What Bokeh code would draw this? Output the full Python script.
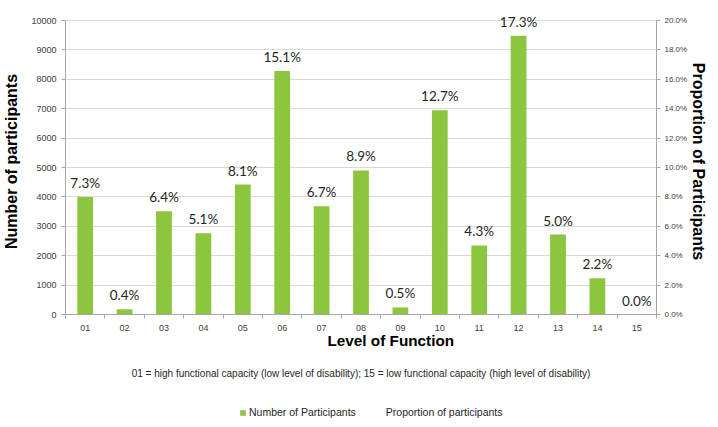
from bokeh.plotting import figure
from bokeh.layouts import column
from bokeh.models import (Range1d, LinearAxis, FixedTicker, PrintfTickFormatter, Title,
                          Legend, LegendItem, ColumnDataSource)
from bokeh.embed import file_html
from bokeh.resources import INLINE
from bokeh.core.properties import value

levels = ["01", "02", "03", "04", "05", "06", "07", "08", "09", "10", "11", "12", "13", "14", "15"]
participants = [4000, 180, 3510, 2760, 4420, 8280, 3680, 4900, 240, 6950, 2350, 9480, 2720, 1230, 0]
proportion = [7.3, 0.4, 6.4, 5.1, 8.1, 15.1, 6.7, 8.9, 0.5, 12.7, 4.3, 17.3, 5.0, 2.2, 0.0]
count_ticks = list(range(0, 10001, 1000))
pct_ticks = list(range(0, 21, 2))

pos = list(range(1, len(levels) + 1))
src = ColumnDataSource(dict(x=pos, n=participants,
                            lab=["%.1f%%" % v for v in proportion]))

GREEN = "#8cc63f"
AX = "#a6a6a6"
TXT = "#404040"
FONT = "Liberation Sans"
YTOP = 10410

p = figure(width=710, height=399, output_backend="svg", toolbar_location=None,
           x_range=Range1d(0.5, len(levels) + 0.5), y_range=Range1d(0, YTOP),
           min_border_left=55, min_border_right=50, min_border_top=8, min_border_bottom=78)
p.outline_line_color = None
p.background_fill_color = "white"

bars = p.vbar(x="x", top="n", width=0.4, source=src, fill_color=GREEN, line_color=None)
p.text(x="x", y="n", text="lab", source=src, text_align="center", text_baseline="bottom",
       y_offset=-6, text_font=value("Lato"), text_font_size="13.5px", text_color="#262626")

# x axis
p.xaxis.ticker = FixedTicker(ticks=pos, minor_ticks=[i + 0.5 for i in range(0, len(levels) + 1)])
p.xaxis.major_label_overrides = {i: l for i, l in zip(pos, levels)}
p.xaxis.major_tick_out = 0
p.xaxis.major_tick_in = 0
p.xaxis.minor_tick_out = 4
p.xaxis.minor_tick_in = 0
p.xaxis.axis_line_color = AX
p.xaxis.minor_tick_line_color = AX
p.xaxis.major_label_text_font = FONT
p.xaxis.major_label_text_font_size = "9px"
p.xaxis.major_label_text_color = TXT
p.xaxis.major_label_standoff = 6

# left axis
p.yaxis.ticker = FixedTicker(ticks=count_ticks)
p.yaxis.bounds = (0, 10000)
p.yaxis.axis_line_color = AX
p.yaxis.major_tick_line_color = AX
p.yaxis.major_tick_out = 4
p.yaxis.major_tick_in = 0
p.yaxis.minor_tick_line_color = None
p.yaxis.major_label_text_font = FONT
p.yaxis.major_label_text_font_size = "9px"
p.yaxis.major_label_text_color = TXT
p.yaxis.axis_label = "Number of participants"
p.yaxis.axis_label_text_font = FONT
p.yaxis.axis_label_text_font_size = "16px"
p.yaxis.axis_label_text_font_style = "bold"
p.yaxis.axis_label_text_color = "black"
p.yaxis.axis_label_standoff = 8

# right axis
p.extra_y_ranges = {"pct": Range1d(0, YTOP / 500)}
ra = LinearAxis(y_range_name="pct", ticker=FixedTicker(ticks=pct_ticks),
                formatter=PrintfTickFormatter(format="%.1f%%"), bounds=(0, 20))
ra.axis_line_color = AX
ra.major_tick_line_color = AX
ra.major_tick_out = 4
ra.major_tick_in = 0
ra.minor_tick_line_color = None
ra.major_label_text_font = FONT
ra.major_label_text_font_size = "8px"
ra.major_label_text_color = TXT
ra.major_label_standoff = 4
ra.axis_label = "Proportion of Participants"
ra.axis_label_text_font = FONT
ra.axis_label_text_font_size = "16px"
ra.axis_label_text_font_style = "bold"
ra.axis_label_text_color = "black"
ra.axis_label_standoff = 0
if hasattr(ra, "axis_label_orientation"):
    ra.axis_label_orientation = "vertical"
p.add_layout(ra, "right")

p.xgrid.grid_line_color = None
p.ygrid.grid_line_color = "#d9d9d9"
p.ygrid.ticker = FixedTicker(ticks=count_ticks)

xlab = Title(text="Level of Function", align="left", offset=262, text_font=FONT,
             text_font_size="15.3px", text_font_style="bold", text_color="black", standoff=-7)
p.add_layout(xlab, "below")
foot = Title(text="01 = high functional capacity (low level of disability); 15 = low functional capacity (high level of disability)",
             align="center", text_font=FONT, text_font_size="10px", text_font_style="normal",
             text_color="#262626", standoff=41)
p.add_layout(foot, "below")

# legend strip
q = figure(width=710, height=28, output_backend="svg", toolbar_location=None,
           x_range=Range1d(0, 1), y_range=Range1d(0, 1),
           min_border_left=0, min_border_right=0, min_border_top=0, min_border_bottom=0)
q.axis.visible = False
q.grid.visible = False
q.outline_line_color = None
lb = q.vbar(x=[0.5], top=[0], width=0.0, fill_color=GREEN, line_color=None)
ghost = q.line(x=[0.5, 0.5], y=[0, 0], line_alpha=0)
leg = Legend(items=[LegendItem(label="Number of Participants", renderers=[lb]),
                    LegendItem(label="Proportion of participants", renderers=[ghost])],
             orientation="horizontal", location=(174, 9), border_line_color=None,
             background_fill_alpha=0,
             label_text_font=FONT, label_text_font_size="10.5px", label_text_color="#262626",
             glyph_width=7, glyph_height=7, spacing=20, label_standoff=3, padding=2, margin=0)
q.add_layout(leg, "center")

open("out.html", "w").write(file_html(column(p, q), INLINE))
